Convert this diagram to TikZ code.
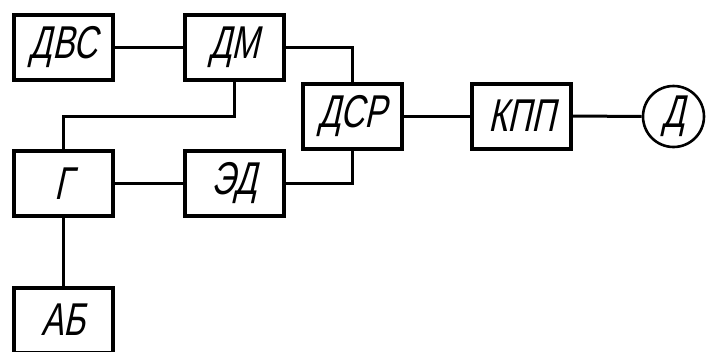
\documentclass[tikz,border=0pt]{standalone}
\usepackage{fontspec}
\newfontfamily\gost[FakeSlant=0.22,FakeStretch=0.72]{Liberation Sans}
\begin{document}
\begin{tikzpicture}[x=1pt,y=-1pt,
  unit/.style={draw,line width=4pt,minimum width=99pt,minimum height=65pt,
    inner sep=0pt,font=\gost\fontsize{46}{46}\selectfont},
  wheel/.style={draw,circle,line width=2.6pt,minimum size=61pt,inner sep=0pt,
    font=\gost\fontsize{46}{46}\selectfont},
  link/.style={line width=3pt}]
\useasboundingbox (0,0) rectangle (707,351);
\clip (0,0) rectangle (707,351);
% units of the drive
\node[unit] (dvs) at (63.5,47.5) {ДВС};
\node[unit] (dm)  at (234.5,47.5) {ДМ};
\node[unit] (dsr) at (352.5,116) {ДСР};
\node[unit] (kpp) at (521.5,116) {КПП};
\node[wheel] (d)  at (673.5,116.5) {Д};
\node[unit] (g)   at (63.5,183.5) {Г};
\node[unit] (ed)  at (234.5,183.5) {ЭД};
\node[unit] (ab)  at (63.5,320) {АБ};
% connections
\draw[link] (dvs.east) -- (dm.west);
\draw[link] (dm.east) -| (dsr.north);
\draw[link] (dm.south) |- (63.5,116) -- (g.north);
\draw[link] (g.east) -- (ed.west);
\draw[link] (ed.east) -| (dsr.south);
\draw[link] (dsr.east) -- (kpp.west);
\draw[link] (kpp.east) -- (d.west);
\draw[link] (g.south) -- (ab.north);
\end{tikzpicture}
\end{document}
